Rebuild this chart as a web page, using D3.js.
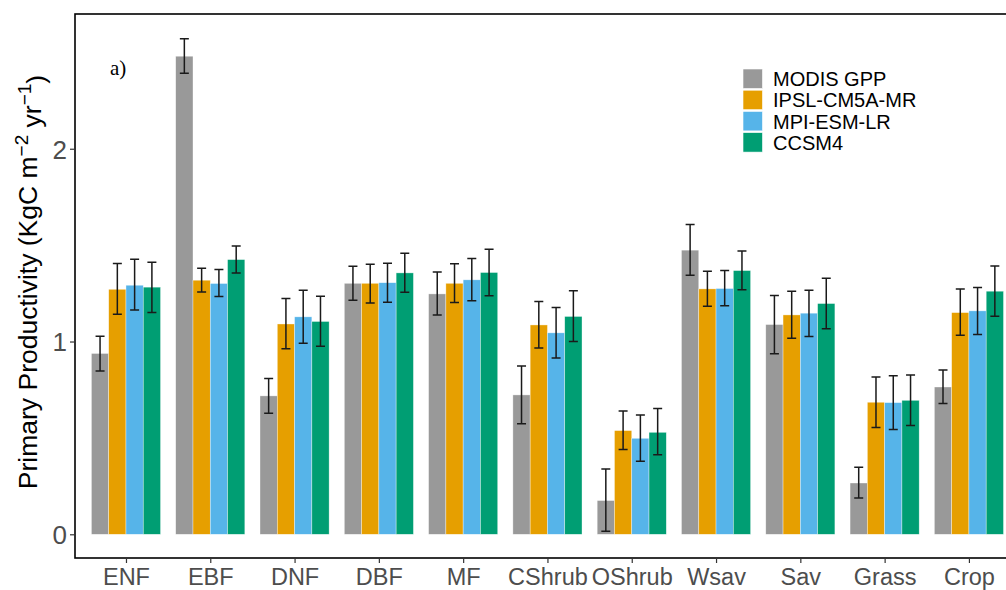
<!DOCTYPE html>
<html><head><meta charset="utf-8">
<script src="https://cdn.jsdelivr.net/npm/d3@7"></script>
<style>body{margin:0;background:#fff}svg{display:block}</style>
</head><body>
<svg id="chart" width="1006" height="590"></svg>
<script>
const categories = ["ENF","EBF","DNF","DBF","MF","CShrub","OShrub","Wsav","Sav","Grass","Crop"];
const seriesNames = ["MODIS GPP","IPSL-CM5A-MR","MPI-ESM-LR","CCSM4"];
const seriesColors = ["#999999","#E69F00","#56B4E9","#009E73"];
const modisMean = [0.938,2.480,0.718,1.302,1.247,0.723,0.175,1.474,1.088,0.266,0.764];
const modisLow  = [0.847,2.391,0.628,1.214,1.138,0.574,0.016,1.344,0.937,0.188,0.678];
const modisHigh = [1.027,2.570,0.808,1.391,1.360,0.873,0.339,1.607,1.239,0.348,0.852];
const ipslMean  = [1.271,1.318,1.091,1.302,1.302,1.086,0.538,1.273,1.138,0.685,1.150];
const ipslLow   = [1.142,1.257,0.962,1.200,1.202,0.967,0.440,1.183,1.017,0.554,1.033];
const ipslHigh  = [1.405,1.380,1.223,1.401,1.403,1.208,0.640,1.365,1.261,0.816,1.273];
const mpiMean   = [1.292,1.301,1.128,1.305,1.320,1.045,0.498,1.275,1.147,0.683,1.159];
const mpiLow    = [1.164,1.233,0.991,1.204,1.211,0.915,0.379,1.185,1.026,0.543,1.036];
const mpiHigh   = [1.427,1.374,1.266,1.406,1.431,1.176,0.619,1.368,1.266,0.823,1.280];
const ccsmMean  = [1.282,1.425,1.104,1.356,1.358,1.130,0.529,1.368,1.197,0.695,1.261];
const ccsmLow   = [1.150,1.356,0.976,1.256,1.237,1.000,0.412,1.268,1.066,0.564,1.131];
const ccsmHigh  = [1.411,1.496,1.235,1.458,1.479,1.263,0.652,1.469,1.328,0.826,1.392];
const yTicks = [0,1,2];
const yTitle = "Primary Productivity (KgC m";

const series = [
  {mean:modisMean, low:modisLow, high:modisHigh},
  {mean:ipslMean, low:ipslLow, high:ipslHigh},
  {mean:mpiMean, low:mpiLow, high:mpiHigh},
  {mean:ccsmMean, low:ccsmLow, high:ccsmHigh}
];
const rows = [];
categories.forEach((c,i)=>{
  series.forEach((s,j)=>{
    rows.push({cat:c, name:seriesNames[j], color:seriesColors[j], mean:s.mean[i], low:s.low[i], high:s.high[i]});
  });
});

const svg = d3.select("#chart");
const panel = {left:75, top:14, right:1019.5, bottom:558};

const x = d3.scalePoint().domain(categories).range([panel.left+0.4, panel.right]).padding(0.6);
const step = x.step();
const xs = d3.scaleBand().domain(seriesNames).range([-0.41*step, 0.41*step]).padding(0);
const y = d3.scaleLinear().domain([-0.123, 2.699]).range([panel.bottom, panel.top]);

const sans = "'Liberation Sans', Arial, sans-serif";

// bars
svg.append("g").selectAll("rect").data(rows).join("rect")
  .attr("x", d => x(d.cat) + xs(d.name))
  .attr("y", d => y(d.mean))
  .attr("width", xs.bandwidth())
  .attr("height", d => y(0) - y(d.mean))
  .attr("fill", d => d.color)
  .attr("stroke", "#ffffff").attr("stroke-opacity", 0.6).attr("stroke-width", 0.6);

// error bars
const eg = svg.append("g").attr("stroke", "#1a1a1a").attr("stroke-width", 1.5).attr("fill","none");
const cx = d => x(d.cat) + xs(d.name) + xs.bandwidth()/2;
const hw = 4.5;
eg.selectAll("path").data(rows).join("path")
  .attr("d", d => `M${cx(d)},${y(d.low)}V${y(d.high)}M${cx(d)-hw},${y(d.low)}H${cx(d)+hw}M${cx(d)-hw},${y(d.high)}H${cx(d)+hw}`);

// panel border
svg.append("rect").attr("x", panel.left).attr("y", panel.top)
  .attr("width", panel.right-panel.left).attr("height", panel.bottom-panel.top)
  .attr("fill","none").attr("stroke","#000").attr("stroke-width",1.6);

// y axis
const yAxis = d3.axisLeft(y).tickValues(yTicks).tickSize(5).tickPadding(3).tickFormat(d3.format("d"));
const ga = svg.append("g").attr("transform", `translate(${panel.left},0)`).call(yAxis);
ga.select(".domain").remove();
ga.selectAll(".tick line").attr("stroke","#333").attr("stroke-width",1.2);
ga.selectAll(".tick text").attr("fill","#4d4d4d").style("font-family", sans).style("font-size","26px").attr("dy","0.36em");

// x axis
const xAxis = d3.axisBottom(x).tickSize(5).tickPadding(4);
const gx = svg.append("g").attr("transform", `translate(0,${panel.bottom})`).call(xAxis);
gx.select(".domain").remove();
gx.selectAll(".tick line").attr("stroke","#333").attr("stroke-width",1.2);
gx.selectAll(".tick text").attr("fill","#4d4d4d").style("font-family", sans).style("font-size","23.5px").attr("dy","0.75em");

// y title
const yt = svg.append("text")
  .attr("transform", `translate(37,282) rotate(-90)`)
  .attr("text-anchor","middle").style("font-family", sans).style("font-size","26.5px").attr("fill","#000");
yt.append("tspan").text(yTitle);
yt.append("tspan").attr("dy","-0.5em").style("font-size","19px").text("−2");
yt.append("tspan").attr("dy","0.5em").text(" yr");
yt.append("tspan").attr("dy","-0.5em").style("font-size","19px").text("−1");
yt.append("tspan").attr("dy","0.5em").text(")");

// panel label
svg.append("text").attr("x",110).attr("y",75).style("font-family","'Liberation Serif', 'Times New Roman', serif")
  .style("font-size","21px").text("a)");

// legend
const lg = svg.append("g").attr("transform","translate(743,69)");
const li = lg.selectAll("g").data(seriesNames).join("g").attr("transform",(d,i)=>`translate(0,${i*21.2})`);
li.append("rect").attr("width",19.5).attr("height",19.5).attr("fill",(d,i)=>seriesColors[i])
  .attr("stroke","#fff").attr("stroke-width",0.6);
li.append("text").attr("x",30).attr("y",10).attr("dy","0.36em").style("font-family",sans).style("font-size","20px").attr("fill","#000").text(d=>d);
</script>
</body></html>
